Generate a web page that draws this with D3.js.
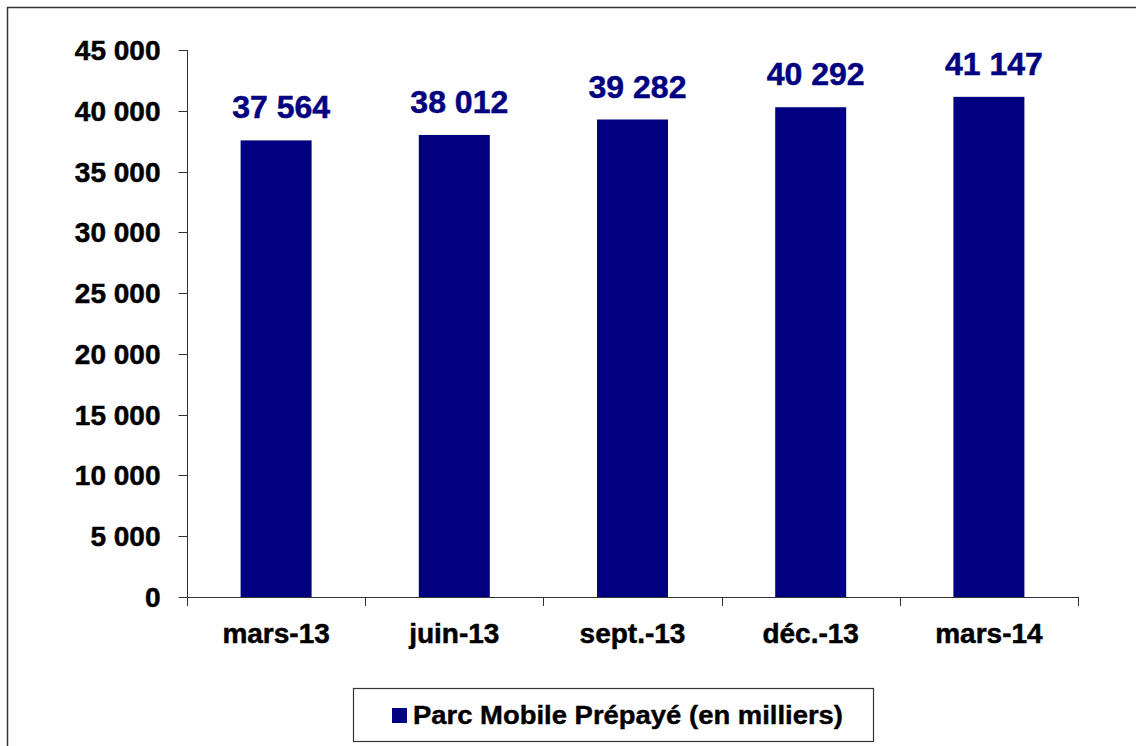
<!DOCTYPE html>
<html>
<head>
<meta charset="utf-8">
<script src="https://cdn.jsdelivr.net/npm/d3@7"></script>
<style>
  body { margin: 0; background: #fff; }
  svg { display: block; font-family: Arial, "Liberation Sans", sans-serif; font-weight: bold; }
</style>
</head>
<body>
<svg id="chart" width="1136" height="746"></svg>
<script>
// données
const categories = ["mars-13", "juin-13", "sept.-13", "déc.-13", "mars-14"]
const valeurs = [37564, 38012, 39282, 40292, 41147]
const yTicks = [0, 5000, 10000, 15000, 20000, 25000, 30000, 35000, 40000, 45000]
const serie = "Parc Mobile Prépayé (en milliers)"

const svg = d3.select("#chart")
const fr = d3.formatLocale({decimal: ",", thousands: " ", grouping: [3], currency: ["", " €"]})
const fmt = fr.format(",d")

// cadre extérieur
svg.append("rect")
  .attr("x", 7.5).attr("y", 7.5)
  .attr("width", 1140).attr("height", 760)
  .attr("fill", "none").attr("stroke", "#333").attr("stroke-width", 1.5)

// échelles
const x = d3.scaleBand().domain(categories).range([187, 1078]).paddingInner(0).paddingOuter(0)
const y = d3.scaleLinear().domain([0, 45000]).range([597, 50])

// axe Y
const gy = svg.append("g").attr("transform", "translate(187.5,0)")
gy.append("line").attr("y1", y(0)).attr("y2", y(45000)).attr("stroke", "#333")
gy.selectAll(".tick").data(yTicks).join("line")
  .attr("x1", -9).attr("x2", 0)
  .attr("y1", d => Math.round(y(d)) + 0.5).attr("y2", d => Math.round(y(d)) + 0.5)
  .attr("stroke", "#333")
gy.selectAll("text").data(yTicks).join("text")
  .attr("x", -27).attr("y", d => y(d) + 10)
  .attr("text-anchor", "end")
  .attr("font-size", 28)
  .attr("fill", "#000").attr("stroke", "#000").attr("stroke-width", 0.5)
  .text(d => fmt(d))

// axe X
const gx = svg.append("g")
gx.append("line").attr("x1", 187).attr("x2", 1078.5)
  .attr("y1", y(0) + 0.5).attr("y2", y(0) + 0.5).attr("stroke", "#333")
const bords = categories.map(c => x(c)).concat([x.range()[1]])
gx.selectAll(".tk").data(bords).join("line")
  .attr("x1", d => Math.round(d) + 0.5).attr("x2", d => Math.round(d) + 0.5)
  .attr("y1", y(0)).attr("y2", y(0) + 9)
  .attr("stroke", "#333")
gx.selectAll("text").data(categories).join("text")
  .attr("x", d => x(d) + x.bandwidth() / 2)
  .attr("y", 643)
  .attr("text-anchor", "middle")
  .attr("font-size", 28)
  .attr("fill", "#000").attr("stroke", "#000").attr("stroke-width", 0.5)
  .text(d => d)

// barres
const barW = 71
svg.selectAll(".barre").data(valeurs).join("rect")
  .attr("class", "barre")
  .attr("x", (d, i) => x(categories[i]) + x.bandwidth() / 2 - barW / 2)
  .attr("y", d => y(d))
  .attr("width", barW)
  .attr("height", d => y(0) - y(d))
  .attr("fill", "#000080")

// étiquettes de valeurs
svg.selectAll(".val").data(valeurs).join("text")
  .attr("class", "val")
  .attr("x", (d, i) => x(categories[i]) + x.bandwidth() / 2 + 5)
  .attr("y", d => y(d) - 22)
  .attr("text-anchor", "middle")
  .attr("font-size", 32)
  .attr("fill", "#000080").attr("stroke", "#000080").attr("stroke-width", 0.5)
  .text(d => fmt(d))

// légende
const lg = svg.append("g")
lg.append("rect").attr("x", 353.5).attr("y", 688.5).attr("width", 520).attr("height", 53)
  .attr("fill", "#fff").attr("stroke", "#333").attr("stroke-width", 1.2)
lg.append("rect").attr("x", 392).attr("y", 708).attr("width", 15).attr("height", 15).attr("fill", "#000080")
lg.append("text").attr("x", 413).attr("y", 724)
  .attr("font-size", 26)
  .attr("fill", "#000").attr("stroke", "#000").attr("stroke-width", 0.4)
  .attr("textLength", 430).attr("lengthAdjust", "spacingAndGlyphs")
  .text(serie)
</script>
</body>
</html>
